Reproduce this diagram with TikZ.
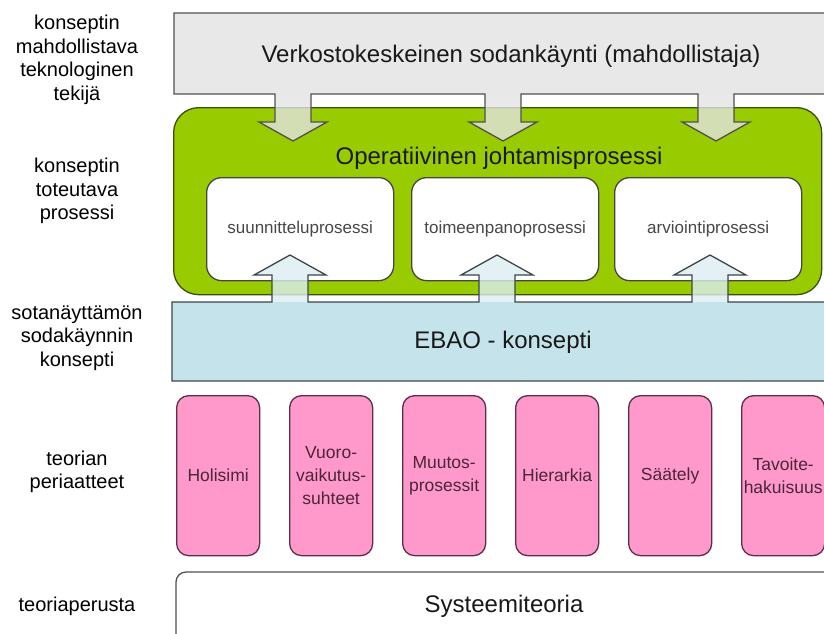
\documentclass[tikz,border=0pt]{standalone}
\usepackage{fontspec}
\setmainfont{Liberation Sans}
\definecolor{grayfill}{RGB}{232,232,232}
\definecolor{grayline}{RGB}{80,80,80}
\definecolor{greenfill}{RGB}{153,204,0}
\definecolor{greenline}{RGB}{60,78,14}
\definecolor{bluefill}{RGB}{197,227,235}
\definecolor{blueline}{RGB}{60,70,75}
\definecolor{pinkfill}{RGB}{255,153,204}
\definecolor{pinkline}{RGB}{92,46,69}
\definecolor{pinktext}{RGB}{74,38,56}
\definecolor{boxline}{RGB}{70,70,70}
\begin{document}
\begin{tikzpicture}[x=1pt,y=-1pt,
  outline/.style={line width=1.3pt, line join=miter},
  lbl/.style={align=center, font=\fontsize{20}{23.5}\selectfont, text=black, inner sep=0pt},
  bigtext/.style={font=\fontsize{24}{28}\selectfont, text=black!90, inner sep=0pt},
  proc/.style={draw=boxline, line width=1.3pt, fill=white, rounded corners=15pt,
    minimum width=187pt, minimum height=103pt, inner sep=0pt, anchor=north west,
    font=\fontsize{17}{20}\selectfont, text=black!72},
  principle/.style={draw=pinkline, fill=pinkfill, line width=1.3pt, rounded corners=12pt,
    minimum width=83pt, minimum height=160pt, inner sep=0pt, anchor=north west,
    align=center, font=\fontsize{17.5}{23}\selectfont, text=pinktext},
  downhead/.style={fill=grayfill!90!black!60!white, fill opacity=0.8},
  uphead/.style={fill=bluefill!60!white, fill opacity=0.8}
]
\useasboundingbox (0,0) rectangle (824,633);
\clip (0,0) rectangle (824,633);

% layer labels on the left
\node[lbl] (l1) at (77,60) {konseptin\\mahdollistava\\teknologinen\\tekijä};
\node[lbl] (l2) at (77,191) {konseptin\\toteutava\\prosessi};
\node[lbl] (l3) at (77,338) {sotanäyttämön\\sodakäynnin\\konsepti};
\node[lbl] (l4) at (77,472) {teorian\\periaatteet};
\node[lbl] (l5) at (77,606) {teoriaperusta};

% enabling technology band
\fill[grayfill] (174,13) rectangle (840,94);

% operational command process
\node[draw=greenline, fill=greenfill, line width=1.3pt, rounded corners=25pt,
  minimum width=648pt, minimum height=187pt, anchor=north west, inner sep=0pt]
  (ojp) at (173,107) {};
\node[bigtext] (ojpt) at (499,158) {Operatiivinen johtamisprosessi};
\node[proc] (p1) at (206,177) {suunnitteluprosessi};
\node[proc] (p2) at (411,177) {toimeenpanoprosessi};
\node[proc] (p3) at (614,177) {arviointiprosessi};

% arrows from the enabling band down into the process
\foreach \c in {293,503,716}
  \fill[downhead] (\c-18,94) -- (\c-18,122) -- (\c-34,122) -- (\c,141)
     -- (\c+34,122) -- (\c+18,122) -- (\c+18,94) -- cycle;
\draw[grayline, outline] (840,13) -- (174,13) -- (174,94)
  foreach \c in {293,503,716} { -- (\c-18,94) -- (\c-18,122) -- (\c-34,122) -- (\c,141)
     -- (\c+34,122) -- (\c+18,122) -- (\c+18,94) } -- (840,94);
\node[bigtext] (vks) at (511,56) {Verkostokeskeinen sodankäynti (mahdollistaja)};

% concept band with arrows up into the process
\fill[bluefill] (172,302) rectangle (840,381);
\foreach \c in {290,497,710}
  \fill[uphead] (\c-18,302) -- (\c-18,275) -- (\c-36,275) -- (\c,255)
     -- (\c+36,275) -- (\c+18,275) -- (\c+18,302) -- cycle;
\draw[blueline, outline] (840,381) -- (172,381) -- (172,302)
  foreach \c in {290,497,710} { -- (\c-18,302) -- (\c-18,275) -- (\c-36,275) -- (\c,255)
     -- (\c+36,275) -- (\c+18,275) -- (\c+18,302) } -- (840,302);
\node[bigtext] (ebao) at (503,342) {EBAO - konsepti};

% principles of the theory
\node[principle] (t1) at (176,395) {Holisimi};
\node[principle] (t2) at (289,395) {Vuoro-\\vaikutus-\\suhteet};
\node[principle] (t3) at (402,395) {Muutos-\\prosessit};
\node[principle] (t4) at (515,395) {Hierarkia};
\node[principle] (t5) at (628,395) {Säätely};
\node[principle] (t6) at (741,395) {Tavoite-\\hakuisuus};

% theoretical basis
\draw[grayline, line width=1.3pt, fill=white, rounded corners=10pt]
  (176,660) -- (176,572) -- (850,572);
\node[bigtext] (sys) at (504,606) {Systeemiteoria};
\end{tikzpicture}
\end{document}
